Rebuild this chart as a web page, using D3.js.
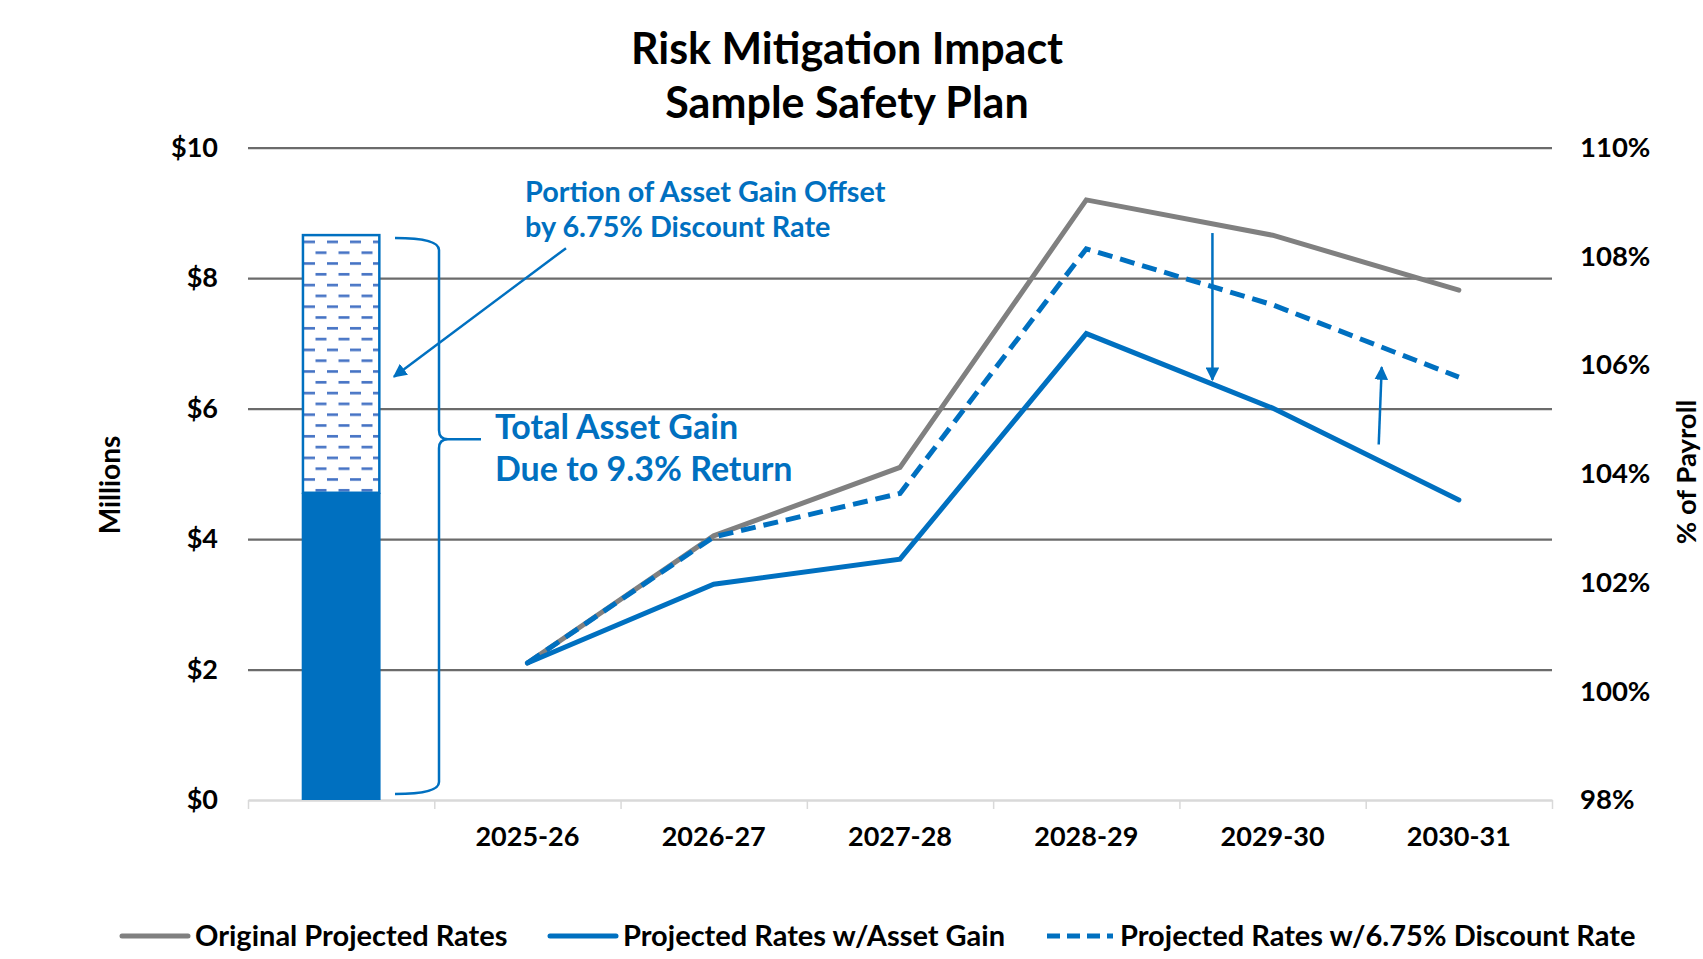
<!DOCTYPE html>
<html>
<head>
<meta charset="utf-8">
<script src="https://cdn.jsdelivr.net/npm/d3@7"></script>
<style>
  body { margin: 0; background: #fff; }
  text { font-family: Lato, "Open Sans", sans-serif; font-weight: bold; }
</style>
</head>
<body>
<svg id="chart"></svg>
<script>
var width = 1703,
    height = 959;

// data
var categories = ["", "2025-26", "2026-27", "2027-28", "2028-29", "2029-30", "2030-31"];
var years = ["2025-26", "2026-27", "2027-28", "2028-29", "2029-30", "2030-31"];
var originalRates = [1.0052, 1.0286, 1.0412, 1.0904, 1.0839, 1.0738];
var assetGainRates = [1.0052, 1.0197, 1.0243, 1.0658, 1.0521, 1.0352];
var discountRates = [1.0052, 1.0284, 1.0364, 1.0814, 1.0711, 1.0578];
var barRetained = 4.71;   // millions, solid part
var barTotal = 8.66;      // millions, total asset gain
var leftTicks = [0, 2, 4, 6, 8, 10];
var rightTicks = [0.98, 1.00, 1.02, 1.04, 1.06, 1.08, 1.10];
var legendNames = ["Original Projected Rates", "Projected Rates w/Asset Gain", "Projected Rates w/6.75% Discount Rate"];

var blue = "#0070C0", grey = "#808080";

var svg = d3.select("#chart")
    .attr("width", width)
    .attr("height", height);

var defs = svg.append("defs");

var pat = defs.append("pattern")
    .attr("id", "dashfill")
    .attr("patternUnits", "userSpaceOnUse")
    .attr("x", 304).attr("y", 0)
    .attr("width", 23).attr("height", 21.6);
pat.append("rect").attr("width", 23).attr("height", 21.6).attr("fill", "#fff");
pat.append("rect").attr("x", 0).attr("y", 3).attr("width", 11).attr("height", 2.6).attr("fill", "#4472C4");
pat.append("rect").attr("x", 11.5).attr("y", 13.8).attr("width", 11).attr("height", 2.6).attr("fill", "#4472C4");

defs.append("marker")
    .attr("id", "head")
    .attr("viewBox", "0 0 10 10")
    .attr("refX", 9).attr("refY", 5)
    .attr("markerWidth", 5.5).attr("markerHeight", 5.5)
    .attr("markerUnits", "strokeWidth")
    .attr("orient", "auto")
  .append("path")
    .attr("d", "M0,0 L10,5 L0,10 z")
    .attr("fill", blue);

var x = d3.scaleBand().domain(categories).range([248, 1552]);
var xEdge = d3.scaleLinear().domain([0, categories.length]).range([248, 1552]);
var yLeft = d3.scaleLinear().domain([0, 10]).range([800, 147.7]);
var yRight = d3.scaleLinear().domain([0.98, 1.10]).range([800, 147.7]);

// title
svg.append("text").attr("x", 847).attr("y", 49).attr("dy", "0.35em")
    .attr("text-anchor", "middle").style("font-size", "43px").text("Risk Mitigation Impact");
svg.append("text").attr("x", 847).attr("y", 103).attr("dy", "0.35em")
    .attr("text-anchor", "middle").style("font-size", "43px").text("Sample Safety Plan");

// gridlines
svg.append("g")
    .attr("transform", "translate(248,0)")
    .call(d3.axisLeft(yLeft).tickValues(leftTicks.slice(1)).tickSize(-1304).tickFormat(""))
    .call(function(g) {
        g.select(".domain").remove();
        g.selectAll("line").attr("stroke", "#6b6b6b").attr("stroke-width", 2.2);
    });

// category axis line + tick marks
svg.append("g")
    .attr("transform", "translate(0,800)")
    .call(d3.axisBottom(xEdge).tickValues(d3.range(categories.length + 1)).tickSize(9).tickSizeOuter(0).tickFormat(""))
    .call(function(g) {
        g.select(".domain").attr("stroke", "#d9d9d9").attr("stroke-width", 2.5);
        g.selectAll("line").attr("stroke", "#d9d9d9").attr("stroke-width", 1.5);
    });

svg.append("g")
    .attr("transform", "translate(0,800)")
    .call(d3.axisBottom(x).tickSize(0))
    .call(function(g) {
        g.select(".domain").remove();
        g.selectAll("text").attr("y", 37).attr("dy", "0.35em")
            .style("font-size", "27px").attr("fill", "#000");
    });

// left axis labels
svg.append("g")
    .attr("transform", "translate(248,0)")
    .call(d3.axisLeft(yLeft).tickValues(leftTicks).tickSize(0).tickPadding(30).tickFormat(function(d) { return "$" + d; }))
    .call(function(g) {
        g.select(".domain").remove();
        g.selectAll("text").style("font-size", "27px").attr("fill", "#000");
    });

// right axis labels
svg.append("g")
    .attr("transform", "translate(1552,0)")
    .call(d3.axisRight(yRight).tickValues(rightTicks).tickSize(0).tickPadding(28).tickFormat(d3.format(".0%")))
    .call(function(g) {
        g.select(".domain").remove();
        g.selectAll("text").style("font-size", "27.5px").attr("fill", "#000");
    });

// axis titles
svg.append("text").attr("transform", "translate(110,485) rotate(-90)").attr("dy", "0.35em")
    .attr("text-anchor", "middle").style("font-size", "28px").text("Millions");
svg.append("text").attr("transform", "translate(1686,472) rotate(-90)").attr("dy", "0.35em")
    .attr("text-anchor", "middle").style("font-size", "27.5px").text("% of Payroll");

// stacked bar
var bw = x.bandwidth() * 0.41;
var bx = x("") + (x.bandwidth() - bw) / 2;
svg.append("rect")
    .attr("x", bx).attr("y", yLeft(barTotal))
    .attr("width", bw).attr("height", yLeft(barRetained) - yLeft(barTotal))
    .attr("fill", "url(#dashfill)")
    .attr("stroke", blue).attr("stroke-width", 2.5);
svg.append("rect")
    .attr("x", bx - 1.25).attr("y", yLeft(barRetained))
    .attr("width", bw + 2.5).attr("height", yLeft(0) - yLeft(barRetained))
    .attr("fill", blue);

// lines
var line = d3.line()
    .x(function(d, i) { return x(years[i]) + x.bandwidth() / 2; })
    .y(function(d) { return yRight(d); });

svg.append("path").datum(originalRates).attr("d", line)
    .attr("fill", "none").attr("stroke", grey).attr("stroke-width", 5).attr("stroke-linecap", "round");
svg.append("path").datum(assetGainRates).attr("d", line)
    .attr("fill", "none").attr("stroke", blue).attr("stroke-width", 5).attr("stroke-linecap", "round");
svg.append("path").datum(discountRates).attr("d", line)
    .attr("fill", "none").attr("stroke", blue).attr("stroke-width", 5).attr("stroke-dasharray", "15,8");

// brace
var bt = yLeft(barTotal) + 3, bb = yLeft(0) - 6, bm = yLeft(5.53);
var b0 = 395, b1 = 439, b2 = 481;
svg.append("path")
    .attr("d", "M" + b0 + "," + bt + " Q" + b1 + "," + bt + " " + b1 + "," + (bt + 12) +
         " L" + b1 + "," + (bm - 9) + " Q" + b1 + "," + bm + " " + (b1 + 9) + "," + bm +
         " L" + b2 + "," + bm +
         " M" + (b1 + 9) + "," + bm + " Q" + b1 + "," + bm + " " + b1 + "," + (bm + 9) +
         " L" + b1 + "," + (bb - 12) + " Q" + b1 + "," + bb + " " + b0 + "," + bb)
    .attr("fill", "none").attr("stroke", blue).attr("stroke-width", 2.5);

// annotations
var ann = svg.append("g").attr("fill", blue);
ann.append("text").attr("x", 525).attr("y", 192).attr("dy", "0.35em").style("font-size", "28.8px").text("Portion of Asset Gain Offset");
ann.append("text").attr("x", 525).attr("y", 227).attr("dy", "0.35em").style("font-size", "28.8px").text("by 6.75% Discount Rate");
ann.append("text").attr("x", 495).attr("y", 427).attr("dy", "0.35em").style("font-size", "34px").text("Total Asset Gain");
ann.append("text").attr("x", 495).attr("y", 469).attr("dy", "0.35em").style("font-size", "34px").text("Due to 9.3% Return");

function arrow(x1, y1, x2, y2) {
    svg.append("line")
        .attr("x1", x1).attr("y1", y1).attr("x2", x2).attr("y2", y2)
        .attr("stroke", blue).attr("stroke-width", 2.5)
        .attr("marker-end", "url(#head)");
}
arrow(566, yLeft(8.46), 394, yLeft(6.49));
arrow(x("2029-30") + 33, yRight(1.0843), x("2029-30") + 33, yRight(1.0573));
arrow(x("2030-31") + 13, yRight(1.0454), x("2030-31") + 16, yRight(1.0596));

// legend
var legendX = [122, 550, 1047];
var legendStyle = [
    { color: grey, dash: null },
    { color: blue, dash: null },
    { color: blue, dash: "13,7" }
];
var lg = svg.append("g").attr("transform", "translate(0,936)");
legendNames.forEach(function(name, i) {
    lg.append("line")
        .attr("x1", legendX[i]).attr("x2", legendX[i] + 66)
        .attr("stroke", legendStyle[i].color).attr("stroke-width", 5)
        .attr("stroke-linecap", legendStyle[i].dash ? "butt" : "round")
        .attr("stroke-dasharray", legendStyle[i].dash);
    lg.append("text")
        .attr("x", legendX[i] + 73).attr("dy", "0.35em")
        .style("font-size", "29px").text(name);
});
</script>
</body>
</html>
